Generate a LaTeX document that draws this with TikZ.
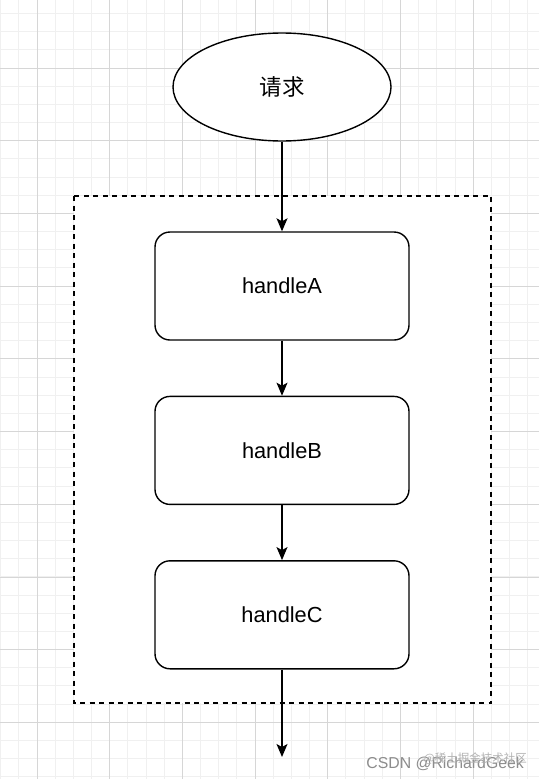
\documentclass[tikz,border=0pt]{standalone}
\usepackage{fontspec}
\setmainfont{Liberation Sans}
\newfontfamily\cjk{Noto Sans CJK SC}
\usetikzlibrary{positioning,arrows.meta,shapes.geometric}

\begin{document}
\begin{tikzpicture}[
  x=1pt, y=-1pt,
  font=\fontsize{21.8}{26}\selectfont,
  minorline/.style={draw=black!6, line width=0.8pt},
  majorline/.style={draw=black!16, line width=0.8pt},
  frame/.style={draw=black, line width=1.3pt, dash pattern=on 5pt off 4.5pt, fill=white},
  start/.style={
    ellipse, draw=black, line width=1.4pt, fill=white,
    minimum width=218pt, minimum height=108pt, inner sep=0pt
  },
  proc/.style={
    rectangle, rounded corners=15pt, draw=black, line width=1.4pt, fill=white,
    minimum width=254pt, minimum height=108pt, inner sep=0pt, align=center
  },
  arr/.style={-{Stealth[length=13pt, width=11pt, inset=3pt]}, line width=1.3pt, draw=black},
  wmark/.style={text=black!45, font=\fontsize{15.8}{18}\selectfont, inner sep=0pt}
]
\useasboundingbox (0,0) rectangle (539,779);
\fill[white] (0,0) rectangle (539,779);

% background grid
\foreach \i in {0,...,29}
  \draw[minorline] ({0.66+18.17*\i},0) -- ({0.66+18.17*\i},779);
\foreach \j in {0,...,42}
  \draw[minorline] (0,{13.5+18.17*\j}) -- (539,{13.5+18.17*\j});
\foreach \i in {0,...,6}
  \draw[majorline] ({37+72.7*\i},0) -- ({37+72.7*\i},779);
\foreach \j in {0,...,9}
  \draw[majorline] (0,{68+72.7*\j}) -- (539,{68+72.7*\j});

% dashed group
\draw[frame] (74,196) rectangle (491,703);

\node[start] (req) at (282,87) {\cjk\fontsize{22.5}{26}\selectfont 请求};

\node[proc] (hA) at (282,286) {handleA};
\node[proc, below=55pt of hA] (hB) {handleB};
\node[proc, below=55pt of hB] (hC) {handleC};

\coordinate (out) at (282,757);

\draw[arr] (req) -- (hA);
\draw[arr] (hA) -- (hB);
\draw[arr] (hB) -- (hC);
\draw[arr] (hC) -- (out);

% watermark
\node[wmark, anchor=base east] (wm) at (524,768) {CSDN @RichardGeek};
\node[wmark, text=black!30, font=\cjk\fontsize{11.5}{13}\selectfont, anchor=base east] (wm2) at (527,762) {@稀土掘金技术社区};
\end{tikzpicture}
\end{document}
